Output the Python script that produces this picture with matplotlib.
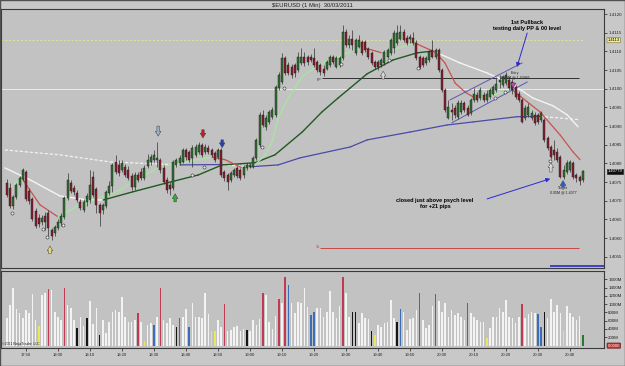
import numpy as np
import matplotlib
matplotlib.use("Agg")
import matplotlib.pyplot as plt
import matplotlib.transforms as mtransforms

plt.rcParams['font.family'] = ['Liberation Sans', 'DejaVu Sans']

# 1 minute bars, bar 0 = 17:44. prices are pips above 1.4000
opens = [74.8, 73.5, 68.6, 71.0, 74.3, 75.9, 77.7, 72.7, 70.5, 67.3,
         65.4, 64.4, 66.0, 66.8, 62.2, 61.4, 62.8, 64.1, 65.7, 70.8,
         74.8, 73.5, 72.1, 69.7, 67.6, 69.7, 70.2, 76.4, 73.2, 68.9,
         67.6, 68.6, 72.1, 74.0, 80.4, 79.6, 78.3, 79.1, 78.3, 76.6,
         73.7, 76.9, 77.7, 76.1, 79.4, 80.4, 81.0, 81.0, 81.0, 78.8,
         75.6, 74.3, 73.5, 79.6, 80.2, 80.4, 83.6, 83.1, 81.5, 82.3,
         83.1, 85.0, 83.1, 84.2, 83.6, 82.8, 81.7, 83.6, 77.7, 76.9,
         75.6, 76.9, 78.8, 78.3, 76.9, 78.8, 79.1, 79.1, 81.5, 85.0,
         93.0, 89.8, 91.1, 92.5, 93.0, 100.2, 101.8, 108.2, 106.4, 105.8,
         106.4, 105.0, 106.9, 108.5, 108.5, 108.5, 108.2, 107.2, 106.4, 105.3,
         105.3, 106.4, 108.5, 105.8, 106.4, 108.2, 115.2, 111.7, 113.3, 109.6,
         111.2, 112.5, 112.5, 110.6, 109.6, 107.2, 107.2, 106.4, 106.9, 108.5,
         109.6, 110.9, 112.2, 113.3, 115.2, 113.6, 113.3, 113.6, 112.2, 108.5,
         108.2, 106.9, 107.7, 110.4, 108.5, 110.4, 105.0, 99.7, 92.2, 94.3,
         94.9, 92.5, 93.8, 96.2, 94.9, 93.5, 97.0, 98.3, 97.5, 98.3,
         97.0, 97.8, 98.6, 99.7, 101.8, 101.0, 101.5, 102.4, 101.8, 100.5,
         98.6, 97.0, 92.2, 93.0, 92.2, 93.0, 93.0, 91.6, 91.6, 86.8,
         84.4, 83.6, 83.1, 81.7, 76.4, 77.7, 78.3, 80.2, 76.9, 76.4, 75.6]
highs = [75.9, 74.8, 71.6, 74.8, 76.6, 78.8, 78.3, 73.5, 71.0, 68.1,
         66.5, 66.2, 67.0, 67.6, 62.8, 63.6, 65.2, 66.8, 71.3, 77.5,
         75.6, 74.3, 72.9, 70.5, 70.5, 72.1, 78.3, 78.0, 73.7, 69.5,
         69.5, 72.9, 75.3, 80.2, 82.3, 81.0, 81.0, 79.9, 79.4, 77.5,
         77.7, 77.7, 78.8, 79.6, 82.6, 82.6, 83.6, 85.8, 81.5, 79.6,
         76.4, 75.1, 81.0, 81.5, 82.3, 84.2, 84.2, 83.6, 85.0, 85.3,
         85.8, 85.5, 85.3, 85.0, 84.2, 83.4, 84.2, 84.2, 78.3, 77.5,
         78.0, 78.8, 79.4, 78.8, 79.6, 80.2, 80.2, 82.0, 86.8, 93.8,
         94.3, 93.0, 94.3, 95.1, 101.0, 104.5, 109.6, 108.8, 107.2, 106.6,
         106.9, 109.8, 110.9, 109.8, 109.0, 109.3, 110.9, 107.7, 106.9, 106.4,
         107.7, 109.0, 109.0, 108.8, 108.8, 117.1, 116.0, 114.4, 115.7, 113.6,
         114.4, 113.0, 113.0, 111.2, 110.1, 107.7, 107.7, 108.2, 110.4, 110.9,
         113.6, 115.7, 117.1, 117.1, 116.0, 114.4, 114.6, 115.2, 113.0, 109.0,
         108.8, 108.8, 110.4, 113.0, 110.9, 110.9, 105.6, 100.2, 97.0, 96.2,
         95.7, 97.0, 97.0, 96.7, 95.7, 97.5, 100.2, 99.1, 100.5, 99.1,
         99.7, 100.2, 101.0, 103.2, 103.7, 103.7, 104.5, 103.4, 102.6, 101.0,
         99.4, 97.5, 95.7, 96.2, 94.3, 93.8, 93.5, 94.0, 92.2, 87.4,
         85.0, 86.3, 84.2, 82.3, 79.6, 81.0, 81.0, 80.7, 77.5, 76.9, 78.2]
lows = [71.0, 68.1, 67.8, 70.5, 73.7, 75.3, 70.0, 69.2, 64.6, 62.8,
        63.0, 63.6, 62.2, 60.6, 59.6, 60.6, 62.2, 63.3, 65.2, 70.2,
        72.1, 71.6, 69.7, 67.6, 67.0, 68.6, 69.5, 71.0, 66.8, 63.3,
        66.5, 68.1, 71.6, 72.4, 77.2, 76.6, 77.7, 76.4, 75.6, 72.9,
        72.9, 75.1, 75.6, 75.6, 78.8, 79.6, 80.4, 79.1, 77.5, 74.5,
        72.1, 71.6, 72.9, 79.1, 79.6, 80.2, 81.0, 80.4, 79.1, 81.7,
        82.6, 81.7, 82.6, 82.6, 81.7, 80.4, 81.2, 76.4, 75.3, 72.9,
        75.1, 76.4, 76.1, 75.6, 76.1, 78.3, 78.8, 78.8, 81.0, 84.4,
        89.8, 89.0, 90.6, 91.9, 92.5, 99.7, 101.3, 103.7, 103.7, 102.9,
        103.2, 104.5, 106.4, 106.1, 106.4, 107.2, 105.8, 104.5, 103.7, 103.4,
        105.0, 105.8, 106.6, 105.6, 105.8, 107.7, 111.2, 110.9, 110.4, 109.0,
        110.9, 109.0, 109.8, 107.9, 106.4, 105.3, 105.0, 105.8, 106.4, 108.2,
        109.0, 109.6, 111.7, 113.0, 112.5, 111.7, 112.2, 111.7, 107.7, 105.3,
        105.8, 106.4, 107.2, 108.2, 107.9, 104.5, 99.1, 93.8, 91.9, 91.6,
        92.2, 91.9, 93.3, 93.8, 92.7, 93.0, 96.5, 96.5, 97.0, 96.5,
        96.5, 97.3, 98.3, 99.1, 100.2, 100.5, 101.0, 99.7, 98.6, 97.3,
        96.5, 90.8, 91.6, 92.5, 91.6, 90.3, 90.6, 91.1, 85.8, 83.6,
        81.2, 81.0, 80.4, 76.1, 75.9, 77.2, 77.7, 75.9, 75.1, 74.3, 75.1]
closes = [71.6, 68.6, 71.0, 74.3, 76.1, 78.3, 70.5, 70.0, 65.2, 63.3,
          63.8, 65.4, 64.4, 62.8, 60.6, 63.0, 64.4, 66.0, 70.8, 75.6,
          72.7, 72.4, 70.2, 68.1, 69.7, 71.3, 74.3, 71.6, 68.9, 66.8,
          68.9, 72.4, 74.0, 79.6, 77.7, 77.5, 80.2, 76.9, 76.1, 73.7,
          76.9, 75.6, 76.1, 78.8, 81.0, 81.7, 82.3, 81.5, 78.3, 75.1,
          72.9, 73.2, 80.4, 81.0, 81.5, 83.6, 81.7, 81.0, 84.2, 84.4,
          85.0, 82.3, 84.4, 83.1, 82.3, 81.0, 83.6, 76.9, 76.1, 75.1,
          77.5, 78.3, 76.6, 76.1, 79.1, 79.6, 79.6, 81.5, 86.3, 93.0,
          90.3, 92.2, 93.8, 94.3, 100.5, 103.7, 108.2, 104.2, 104.2, 103.7,
          104.2, 108.5, 108.5, 106.9, 107.2, 107.7, 106.4, 105.0, 104.5, 104.2,
          107.2, 108.5, 107.2, 108.2, 108.2, 115.2, 111.7, 113.3, 111.7, 113.0,
          113.0, 109.6, 110.4, 108.5, 106.9, 105.8, 105.8, 107.7, 109.8, 110.4,
          113.0, 114.9, 114.9, 115.2, 113.0, 112.2, 113.9, 112.2, 108.2, 105.8,
          106.4, 108.2, 109.8, 108.5, 110.4, 105.0, 99.7, 94.3, 95.1, 93.8,
          93.0, 96.2, 96.2, 94.3, 93.0, 97.0, 98.6, 97.0, 99.7, 97.0,
          98.6, 99.7, 100.5, 101.3, 102.4, 103.2, 103.7, 100.2, 99.7, 97.8,
          97.0, 91.1, 94.9, 95.1, 93.5, 90.8, 91.1, 93.5, 86.3, 84.2,
          81.7, 82.3, 81.0, 76.4, 78.3, 80.2, 80.4, 76.4, 76.1, 75.3, 77.9]

# volume in millions
volume = [660, 980, 1380, 875, 780, 660, 860, 780, 1245, 620,
          475, 1220, 1275, 1365, 1340, 820, 700, 620, 1380, 980,
          900, 620, 420, 700, 480, 660, 1085, 515, 900, 260,
          620, 315, 580, 820, 860, 820, 1180, 700, 580, 580,
          620, 780, 580, 120, 500, 540, 500, 700, 1380, 620,
          540, 675, 500, 440, 660, 700, 875, 460, 1020, 680,
          680, 660, 1260, 760, 350, 340, 620, 440, 1000, 360,
          380, 460, 475, 360, 395, 380, 360, 620, 500, 635,
          1275, 1220, 580, 400, 715, 1125, 1020, 1650, 1460, 1020,
          780, 1060, 1020, 1380, 940, 740, 820, 900, 900, 700,
          820, 1320, 820, 660, 955, 1660, 1260, 700, 820, 820,
          540, 780, 675, 635, 340, 260, 500, 460, 555, 580,
          1100, 660, 580, 875, 820, 380, 635, 660, 860, 1260,
          620, 420, 500, 955, 1235, 1085, 820, 1020, 700, 860,
          740, 780, 700, 620, 1035, 780, 680, 620, 580, 580,
          175, 420, 700, 700, 900, 820, 1100, 700, 660, 540,
          700, 995, 660, 760, 820, 780, 755, 460, 800, 660,
          1115, 820, 980, 780, 340, 955, 780, 680, 620, 715, 260]
vol_red = [13, 18, 41, 48, 68, 80, 85, 87, 105, 129, 134, 161]
vol_blue = [46, 54, 57, 88, 95, 96, 123, 144, 166, 167]
vol_black = [22, 25, 29, 53, 75, 108, 109, 114, 122, 168]
vol_yellow = [10, 43, 64, 65, 115, 150, 174]
vol_green = [180]

time_ticks = [6, 16, 26, 36, 46, 56, 66, 76, 86, 96, 106, 116, 126, 136, 146, 156, 166, 176]
time_labels = ['17:50', '18:00', '18:10', '18:20', '18:30', '18:40', '18:50', '19:00', '19:10',
               '19:20', '19:30', '19:40', '19:50', '20:00', '20:10', '20:20', '20:30', '20:40']

# moving averages (bar index, pips)
fast_x = [-0.6, 4.8, 6.3, 10.4, 16.0, 22.9, 29.1, 35.4, 41.6, 47.9, 55.7, 64.1, 68.2, 73.5,
          77.6, 80.7, 82.9, 84.8, 87.9, 92.3, 97.3, 102.6, 108.8, 111.9, 117.2, 127.6, 133.8,
          136.9, 140.1, 143.2, 146.3, 151.0, 157.9, 162.6, 166.6, 172.9, 176.9, 179.1]
fast_y = [72.4, 76.1, 74.0, 68.9, 65.7, 68.9, 70.8, 72.9, 76.1, 79.1, 80.4, 81.7, 81.0, 78.8,
          79.6, 82.3, 85.8, 92.2, 97.5, 103.2, 106.4, 108.2, 110.4, 110.9, 109.6, 112.2, 109.8,
          106.9, 101.5, 99.1, 97.5, 98.1, 99.7, 96.5, 93.8, 87.6, 83.1, 81.0]
mid_x = [-0.6, 7.3, 16.6, 24.4, 30.1, 39.4, 50.1, 59.8, 67.3, 72.9, 77.6, 83.8, 92.3, 98.5,
         103.5, 107.3, 112.6, 120.7, 128.2, 133.2, 141.6, 150.1, 158.2, 164.4, 170.7, 175.1, 178.5]
mid_y = [78.8, 75.6, 71.3, 70.3, 70.2, 72.4, 74.8, 76.9, 79.6, 79.9, 80.2, 82.3, 88.4, 93.8,
         97.5, 100.2, 104.0, 107.7, 109.6, 110.1, 106.9, 104.2, 101.0, 97.5, 95.4, 93.0, 89.8]
slow_x = [-0.6, 16.6, 32.3, 54.1, 67.3, 76.0, 84.8, 91.7, 107.3, 112.6, 126.0, 137.6, 145.7,
          159.4, 166.6, 179.1]
slow_y = [83.6, 82.3, 80.4, 79.6, 79.7, 79.1, 79.6, 81.5, 84.4, 86.3, 88.4, 90.3, 91.1,
          92.5, 92.6, 91.7]

circle_x = [1.6, 11.3, 12.6, 17.6, 57.9, 61.6, 79.8, 86.6, 104.4, 119.4, 128.5, 152.6, 155.7, 169.8]
circle_y = [66.8, 62.5, 60.4, 63.6, 76.9, 79.1, 84.4, 100.2, 106.6, 107.7, 105.6, 97.5, 99.1, 80.7]

# signal arrows: x, tail, head, fill
sig_x = [13.5, 47.3, 61.3, 67.3, 52.6, 117.6, 170.0, 158.2, 173.8]
sig_from = [55.8, 90.0, 89.0, 86.3, 69.7, 102.6, 77.7, 101.6, 73.7]
sig_to = [57.9, 87.3, 86.8, 84.2, 71.9, 104.7, 80.2, 100.2, 75.4]
sig_col = ['#e8d870', '#9ab0c8', '#c02020', '#2040c0', '#30b030', '#d8d8d8', '#d8d8d8',
           '#c040c0', '#3060d0']

level_00 = 100.0
level_yellow = 113.0
level_pp = 102.8
level_s1 = 57.4
level_s2 = 52.5
chan_up_x, chan_up_y = [138.5, 161.0], [97.0, 106.9]
chan_lo_x, chan_lo_y = [139.1, 162.6], [90.9, 101.8]

n = len(closes)
x = np.arange(n)
o, h, l, c = map(np.array, (opens, highs, lows, closes))

fig = plt.figure(figsize=(6.25, 3.66), dpi=100)
fig.patch.set_facecolor('#c8c8c8')
bg = '#c2c2c2'
ax = fig.add_axes([0.0016, 1 - 268 / 366, 0.9648, 259 / 366])
av = fig.add_axes([0.0016, 1 - 348 / 366, 0.9648, 77 / 366], sharex=ax)

for a in (ax, av):
    a.set_facecolor(bg)
    for s in a.spines.values():
        s.set_color('#3a3a3a')
        s.set_linewidth(0.8)
    a.yaxis.tick_right()
    a.tick_params(axis='y', direction='out', length=2, width=0.5, labelsize=3.2,
                  colors='#202020', pad=1)

ax.set_xlim(-1.8, 186.6)
ax.set_ylim(52.0, 121.34)
ax.tick_params(axis='x', bottom=False, labelbottom=False)
ticks = np.arange(55, 121, 5)
ax.set_yticks(ticks)
ax.set_yticklabels([f"{1.4 + t / 10000:.4f}" for t in ticks])

# levels
ax.axhline(level_00, color='#ececec', lw=0.7, zorder=1)
ax.hlines(level_yellow, -1.8, 180.3, colors='#e4e49a', linestyles=(0, (2, 2)), lw=0.7, zorder=1)
ax.hlines(level_pp, 98.5, 178.8, colors='#303030', lw=0.7, zorder=1)
ax.hlines(level_s1, 98.0, 178.8, colors='#c84848', lw=0.7, zorder=1)
ax.hlines(level_s2, 169.8, 186.6, colors='#4040c8', lw=1.4, zorder=1)
ax.text(98.3, level_pp - 0.4, 'PP', fontsize=2.6, ha='right', va='center', color='#303030')
ax.text(98.0, level_s1 + 0.3, 'S1', fontsize=2.6, ha='right', va='center', color='#c84848')


def draw_ma(xs, ys, up, dn, dn_style='-', lw=0.9):
    for k in range(len(xs) - 1):
        rising = ys[k + 1] > ys[k]
        ax.plot(xs[k:k + 2], ys[k:k + 2], color=up if rising else dn,
                ls='-' if rising else dn_style, lw=lw, zorder=2, solid_capstyle='round')


draw_ma(slow_x, slow_y, '#4a4aa8', '#f2f2f2', dn_style=(0, (2.5, 1.5)))
draw_ma(mid_x, mid_y, '#1f5a1f', '#f4f4f4', lw=1.0)
draw_ma(fast_x, fast_y, '#a6e6a0', '#c8524e')

ax.plot(chan_up_x, chan_up_y, color='#5a5ab4', lw=0.7, zorder=2)
ax.plot(chan_lo_x, chan_lo_y, color='#5a5ab4', lw=0.7, zorder=2)

# candles
up = c >= o
ax.vlines(x, l, h, color='#303030', lw=0.5, zorder=3)
body = np.where(np.abs(c - o) < 0.25, 0.25, c - o)
ax.bar(x, body, bottom=o, width=0.62, color=np.where(up, '#2f7030', '#8a1e2e'),
       edgecolor='#1a1a1a', linewidth=0.3, zorder=4)

ax.plot(circle_x, circle_y, 'o', ms=2.2, mfc='#e8e8e8', mec='#303030', mew=0.4, zorder=5)

for sx, s0, s1, sc in zip(sig_x, sig_from, sig_to, sig_col):
    ax.annotate('', xy=(sx, s1), xytext=(sx, s0), zorder=6,
                arrowprops=dict(arrowstyle='simple,head_width=0.8,head_length=0.7,tail_width=0.35',
                                fc=sc, ec='#303030', lw=0.3, mutation_scale=5,
                                shrinkA=0, shrinkB=0))

# notes
ax.text(162.6, 116.9, '1st Pullback\ntesting daily PP & 00 level', fontsize=4, fontweight='bold',
        ha='center', va='center', linespacing=1.15, zorder=7)
ax.text(133.8, 69.3, 'closed just above psych level\nfor +21 pips', fontsize=4, fontweight='bold',
        ha='center', va='center', linespacing=1.15, zorder=7)
ax.text(158.8, 103.6, 'Entry\n0.05M @ 1.40985', fontsize=2.6, ha='center', va='center',
        linespacing=1.0, color='#202020', zorder=7)
ax.text(173.8, 72.9, 'Target\n0.05M @ 1.4077', fontsize=2.6, ha='center', va='center',
        linespacing=1.0, color='#202020', zorder=7)
arrow_kw = dict(arrowstyle='-|>', color='#2a2ad0', lw=0.7, mutation_scale=6, shrinkA=0, shrinkB=0)
ax.annotate('', xy=(159.4, 105.8), xytext=(162.6, 114.9), arrowprops=arrow_kw, zorder=7)
ax.annotate('', xy=(169.8, 75.9), xytext=(150.1, 70.5), arrowprops=arrow_kw, zorder=7)

# price tags on the axis
tr = mtransforms.blended_transform_factory(ax.transAxes, ax.transData)
ax.text(1.006, level_yellow, '1.4113', transform=tr, fontsize=3.0, va='center', ha='left',
        bbox=dict(boxstyle='round,pad=0.15', fc='#f2eaa0', ec='#807020', lw=0.4), zorder=8)
ax.text(1.006, closes[-1], f"{1.4 + closes[-1] / 10000:.5f}", transform=tr, fontsize=3.0,
        va='center', ha='left', color='white',
        bbox=dict(boxstyle='square,pad=0.15', fc='#101010', ec='#101010', lw=0.4), zorder=8)

# volume
vcol = ['#f3f3f3'] * n
for idx_list, col in ((vol_red, '#c23a52'), (vol_blue, '#3a6db5'), (vol_black, '#151515'),
                      (vol_yellow, '#e8e85c'), (vol_green, '#2a7a2a')):
    for i in idx_list:
        vcol[i] = col
av.bar(x, volume, width=0.5, color=vcol, edgecolor='none', zorder=3)
av.set_ylim(-58, 1798)
vt = np.arange(200, 1601, 200)
av.set_yticks(vt)
av.set_yticklabels([f"{v}M" for v in vt])
av.set_xticks(time_ticks)
av.set_xticklabels(time_labels)
av.tick_params(axis='x', direction='out', length=2, width=0.5, labelsize=3.0, pad=1.5,
               colors='#202020')
trv = mtransforms.blended_transform_factory(av.transAxes, av.transData)
av.text(1.006, 0, '0.0000', transform=trv, fontsize=3.0, va='center', ha='left', color='white',
        bbox=dict(boxstyle='round,pad=0.15', fc='#c03030', ec='#601010', lw=0.4), zorder=8)
av.text(0.002, 0.02, '\u00a92011 NinjaTrader, LLC', transform=av.transAxes, fontsize=2.5,
        ha='left', va='bottom', color='#202020')

fig.text(0.5, 1 - 5.5 / 366, '$EURUSD (1 Min)  30/03/2011', fontsize=4.2, ha='center',
         va='center', color='#202020')
fig.patches.append(plt.Rectangle((0, 0), 1, 1, transform=fig.transFigure, fill=False,
                                 ec='#505050', lw=1.0))

fig.savefig('out.png', dpi=100, facecolor=fig.get_facecolor())
